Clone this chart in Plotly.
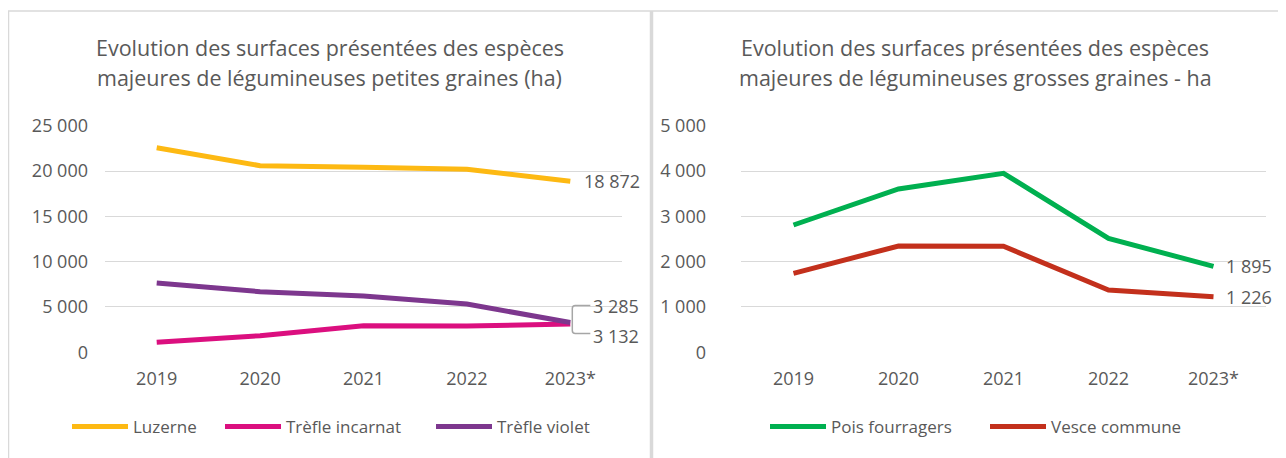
import plotly.graph_objects as go

years = ["2019", "2020", "2021", "2022", "2023*"]

# Petites graines (ha)
luzerne = [22570, 20590, 20410, 20190, 18872]
trefle_incarnat = [1100, 1830, 2935, 2900, 3132]
trefle_violet = [7650, 6690, 6210, 5330, 3285]

# Grosses graines (ha)
pois_fourragers = [2809, 3603, 3950, 2515, 1895]
vesce_commune = [1743, 2346, 2340, 1375, 1226]

title_left = ["Evolution des surfaces présentées des espèces",
              "majeures de légumineuses petites graines (ha)"]
title_right = ["Evolution des surfaces présentées des espèces",
               "majeures de légumineuses grosses graines - ha"]

# page body has an 8px margin: figure occupies window minus that offset
OFF = 8
W, H = 1286 - OFF, 458 - OFF
FONT = "Open Sans"
TXT = "#595959"
GRID = "#d9d9d9"
BORDER = "#d9d9d9"


def px(x):
    return (x - OFF) / W


def py(y):
    return 1 - (y - OFF) / H


fig = go.Figure()

left_series = [("Luzerne", luzerne, "#FDB913", 67),
               ("Trèfle incarnat", trefle_incarnat, "#DB0F7F", 220),
               ("Trèfle violet", trefle_violet, "#7D378E", 431)]
right_series = [("Pois fourragers", pois_fourragers, "#00B050", 765),
                ("Vesce commune", vesce_commune, "#C3301C", 985)]

legends = {}
k = 1
for name, vals, col, lx in left_series:
    lid = "legend" if k == 1 else f"legend{k}"
    fig.add_trace(go.Scatter(x=years, y=vals, name=name, mode="lines",
                             line=dict(color=col, width=5), xaxis="x", yaxis="y",
                             legend=lid, hoverinfo="x+y+name"))
    legends[lid] = lx
    k += 1
for name, vals, col, lx in right_series:
    lid = f"legend{k}"
    fig.add_trace(go.Scatter(x=years, y=vals, name=name, mode="lines",
                             line=dict(color=col, width=5), xaxis="x2", yaxis="y2",
                             legend=lid, hoverinfo="x+y+name"))
    legends[lid] = lx
    k += 1

ydom = [py(352.3), py(125.7)]
axis_common = dict(showline=False, zeroline=False, automargin=False,
                   tickfont=dict(family=FONT, size=18, color=TXT))
layout_kw = dict(
    width=W, height=H,
    margin=dict(l=0, r=0, t=0, b=0, autoexpand=False),
    paper_bgcolor="white", plot_bgcolor="white",
    separators=", ",
    font=dict(family=FONT, color=TXT),
    xaxis=dict(domain=[px(105), px(622)], type="category", range=[-0.5, 4.5],
               showgrid=False, ticks="", ticklabelstandoff=14, anchor="y",
               **axis_common),
    yaxis=dict(domain=ydom, range=[0, 25000], dtick=5000, tickformat=",d",
               showgrid=True, gridcolor=GRID, gridwidth=1.3, ticks="",
               ticklabelstandoff=16, anchor="x", **axis_common),
    xaxis2=dict(domain=[px(741), px(1266)], type="category", range=[-0.5, 4.5],
                showgrid=False, ticks="", ticklabelstandoff=14, anchor="y2",
                **axis_common),
    yaxis2=dict(domain=ydom, range=[0, 5000], dtick=1000, tickformat=",d",
                showgrid=True, gridcolor=GRID, gridwidth=1.3, ticks="",
                ticklabelstandoff=34, anchor="x2", **axis_common),
    showlegend=True,
)
for lid, lx in legends.items():
    layout_kw[lid] = dict(orientation="h", x=px(lx), y=py(427), xanchor="left",
                          yanchor="middle", font=dict(family=FONT, size=17, color=TXT),
                          itemwidth=56, bgcolor="rgba(0,0,0,0)", borderwidth=0)
fig.update_layout(**layout_kw)

# Titles
ann = []
for cx, lines in [(330, title_left), (975, title_right)]:
    for t, yy in zip(lines, [47, 77]):
        ann.append(dict(text=t, x=px(cx), y=py(yy), xref="paper", yref="paper",
                        xanchor="center", yanchor="middle", showarrow=False,
                        font=dict(family=FONT, size=21.5, color=TXT)))


def fmt(v):
    return f"{v:,}".replace(",", " ")


# Data labels
lab_font = dict(family=FONT, size=18, color=TXT)
ann.append(dict(text=fmt(luzerne[-1]), x=years[-1], y=luzerne[-1],
                xref="x", yref="y", xanchor="left", yanchor="middle", xshift=12,
                showarrow=False, font=lab_font))
ann.append(dict(text=fmt(trefle_violet[-1]), x=years[-1],
                y=trefle_violet[-1], xref="x", yref="y", xanchor="left",
                yanchor="middle", xshift=21, yshift=17, showarrow=False, font=lab_font))
ann.append(dict(text=fmt(trefle_incarnat[-1]), x=years[-1],
                y=trefle_incarnat[-1], xref="x", yref="y", xanchor="left",
                yanchor="middle", xshift=21, yshift=-12, showarrow=False, font=lab_font))
ann.append(dict(text=fmt(pois_fourragers[-1]), x=years[-1],
                y=pois_fourragers[-1], xref="x2", yref="y2", xanchor="left",
                yanchor="middle", xshift=10, showarrow=False, font=lab_font))
ann.append(dict(text=fmt(vesce_commune[-1]), x=years[-1],
                y=vesce_commune[-1], xref="x2", yref="y2", xanchor="left",
                yanchor="middle", xshift=10, showarrow=False, font=lab_font))
fig.update_layout(annotations=ann)

# Panel borders
shapes = [
    dict(type="line", xref="paper", yref="paper", x0=px(8), x1=1, y0=py(11), y1=py(11),
         line=dict(color=BORDER, width=1.5)),
    dict(type="line", xref="paper", yref="paper", x0=px(8.5), x1=px(8.5), y0=0, y1=py(11),
         line=dict(color=BORDER, width=1.5)),
    dict(type="line", xref="paper", yref="paper", x0=px(651.5), x1=px(651.5), y0=0,
         y1=py(11), line=dict(color=BORDER, width=3.5)),
    # leader bracket for the two close end labels
    dict(type="path", xref="x", yref="y", xsizemode="pixel", ysizemode="pixel",
         xanchor=years[-1], yanchor=trefle_violet[-1],
         path="M 20,17 L 5,17 Q 2,17 2,14 L 2,-8 Q 2,-11 5,-11 L 20,-11",
         line=dict(color="#a6a6a6", width=1.5)),
]
fig.update_layout(shapes=shapes)

fig.write_html("out.html")
